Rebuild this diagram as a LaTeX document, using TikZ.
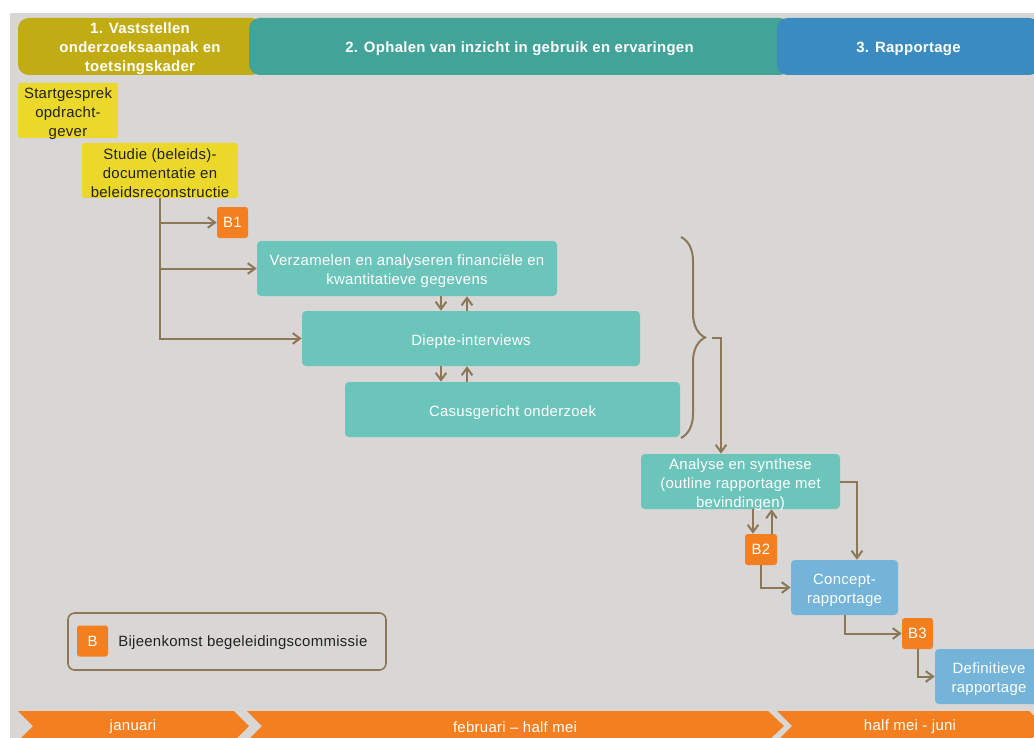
\documentclass[tikz,border=0pt]{standalone}
\usepackage{fontspec}
\setmainfont[LetterSpace=2]{Liberation Sans}
\usetikzlibrary{arrows.meta,calc,decorations.pathreplacing}
\definecolor{bg}{HTML}{D8D7D5}
\definecolor{hA}{HTML}{C2AC14}
\definecolor{hB}{HTML}{42A398}
\definecolor{hC}{HTML}{3A8CC0}
\definecolor{yel}{HTML}{EBD82B}
\definecolor{teal}{HTML}{6CC5BB}
\definecolor{lblue}{HTML}{75B4D9}
\definecolor{orng}{HTML}{F47F20}
\definecolor{conn}{HTML}{8C7757}
\definecolor{dtext}{HTML}{222222}
\newcommand\fbody{\fontsize{11.2pt}{14.25pt}\selectfont}
\newcommand\fhead{\fontsize{11.2pt}{14.25pt}\selectfont\bfseries}
\begin{document}
\begin{tikzpicture}[x=0.75pt,y=-0.75pt,
  hdr/.style={rounded corners=8pt, inner sep=0pt, align=center, font=\fhead, text=white, minimum height=42.75pt},
  ybox/.style={fill=yel, rounded corners=2pt, inner sep=0pt, align=center, font=\fbody, text=dtext, minimum height=41.25pt},
  tbox/.style={fill=teal, rounded corners=3pt, inner sep=0pt, align=center, font=\fbody, text=white, minimum height=41.25pt},
  bbox/.style={fill=lblue, rounded corners=3pt, inner sep=0pt, align=center, font=\fbody, text=white, minimum height=41.25pt},
  bsq/.style={fill=orng, rounded corners=2pt, inner sep=0pt, align=center, font=\fbody, text=white, minimum width=23.25pt, minimum height=23.25pt},
  th/.style={text height=#1, text depth=0pt},
  arr/.style={draw=conn, line width=1.5pt, -{Straight Barb[length=5.5pt,width=8pt]}},
  ln/.style={draw=conn, line width=1.5pt},
  tl/.style={fill=orng},
  tltext/.style={font=\fbody, text=white, inner sep=0pt}]
\fill[white] (0,0) rectangle (1034,738);
\useasboundingbox (0,0) rectangle (1034,738);
\fill[bg] (10,13) rectangle (1034,738);
% headers
\node[hdr, th=37.35pt, fill=hA, minimum width=183pt] (h1) at (140,46.5) {1. Vaststellen\\onderzoeksaanpak en\\toetsingskader};
\node[hdr, th=8.85pt, fill=hB, minimum width=405.75pt] (h2) at (519.5,46.5) {2. Ophalen van inzicht in gebruik en ervaringen};
\node[hdr, th=8.85pt, fill=hC, minimum width=197.25pt] (h3) at (908.5,46.5) {3. Rapportage};
% boxes
\node[ybox, th=38.85pt, minimum width=75pt] (start) at (68,110.5) {Startgesprek\\opdracht-\\gever};
\node[ybox, th=41pt, minimum width=117pt] (studie) at (160,170.5) {Studie (beleids)-\\documentatie en\\beleidsreconstructie};
\node[bsq] (b1) at (232.5,222.5) {B1};
\node[tbox, th=24.6pt, minimum width=225pt] (verz) at (407,268.5) {Verzamelen en analyseren financiële en\\kwantitatieve gegevens};
\node[tbox, th=10.35pt, minimum width=253.5pt] (diepte) at (471,338.5) {Diepte-interviews};
\node[tbox, th=10.35pt, minimum width=251.25pt] (casus) at (512.5,409.5) {Casusgericht onderzoek};
\node[tbox, th=38.85pt, minimum width=149.25pt] (analyse) at (740.5,481.5) {Analyse en synthese\\(outline rapportage met\\bevindingen)};
\node[bsq, minimum width=24pt] (b2) at (761,549.5) {B2};
\node[bbox, th=24.6pt, minimum width=80.25pt] (concept) at (844.5,587.5) {Concept-\\rapportage};
\node[bsq] (b3) at (917.5,633.5) {B3};
\node[bbox, th=24.6pt, minimum width=81pt] (def) at (989,676.5) {Definitieve\\rapportage};
% legend
\node[draw=conn, line width=1.2pt, rounded corners=5pt, minimum width=238.5pt, minimum height=42.75pt, inner sep=0pt] (leg) at (227,641.5) {};
\node[bsq] (lb) at (92.5,641) {B};
\node[anchor=west, font=\fbody, text=dtext, inner sep=0pt] (lt) at (118,642.5) {Bijeenkomst begeleidingscommissie};
% guide coordinates
\coordinate (xa) at (441,0);
\coordinate (xb) at (467,0);
\coordinate (xc) at (753,0);
\coordinate (xd) at (771.5,0);
\coordinate (xe) at (857,0);
\coordinate (xf) at (721,0);
\coordinate (bt) at (712,338);
% connectors
\draw[arr] (studie.south) |- (b1.west);
\draw[arr] (studie.south) |- (verz.west);
\draw[arr] (studie.south) |- (diepte.west);
\draw[arr] (verz.south -| xa) -- (diepte.north -| xa);
\draw[arr] (diepte.north -| xb) -- (verz.south -| xb);
\draw[arr] (diepte.south -| xa) -- (casus.north -| xa);
\draw[arr] (casus.north -| xb) -- (diepte.south -| xb);
\draw[ln, decorate, decoration={brace, amplitude=18pt}] (681,237) -- (681,438);
\draw[arr] (bt) -| (analyse.north -| xf);
\draw[arr] (analyse.east) -| (concept.north -| xe);
\draw[arr] (analyse.south -| xc) -- (b2.north -| xc);
\draw[arr] (b2.north -| xd) -- (analyse.south -| xd);
\draw[arr] (b2.south) |- (concept.west);
\draw[arr] (concept.south) |- (b3.west);
\draw[arr] (b3.south) |- (def.west);
% timeline
\fill[tl] (18,711) -- (234,711) -- (249,726) -- (234,741) -- (18,741) -- (33,726) -- cycle;
\fill[tl] (247,711) -- (768,711) -- (784,726) -- (768,741) -- (247,741) -- (262,726) -- cycle;
\fill[tl] (777,711) -- (1029,711) -- (1044,726) -- (1029,741) -- (777,741) -- (792,726) -- cycle;
\node[tltext] (t1) at (133,727) {januari};
\node[tltext] (t2) at (515,727) {februari – half mei};
\node[tltext] (t3) at (910,727) {half mei - juni};
\end{tikzpicture}
\end{document}
